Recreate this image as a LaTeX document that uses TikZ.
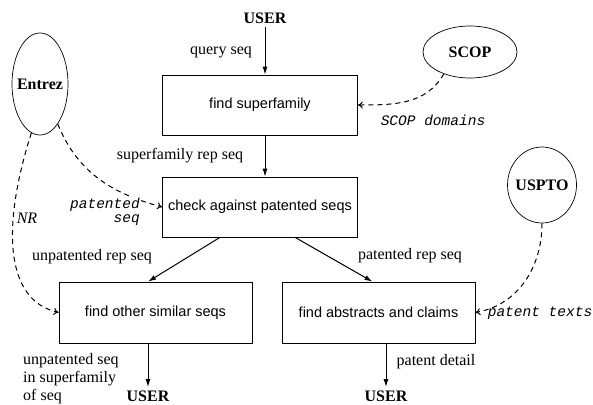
\documentclass[tikz,border=0pt]{standalone}
\usepackage{fontspec}
\setmainfont{Liberation Serif}
\setsansfont{Liberation Sans}
\setmonofont{Liberation Mono}
\usetikzlibrary{arrows.meta}
\usetikzlibrary{shapes.geometric}

\begin{document}
\begin{tikzpicture}[node distance = 2cm, x=1pt, y=1pt]
    \tikzstyle{block}  = [rectangle, draw, fill=white, line width=0.7pt, minimum width=195pt, minimum height=60pt, inner sep=2pt, font=\sffamily\fontsize{14.5}{17}\selectfont]
    \tikzstyle{source} = [ellipse, draw, line width=0.7pt, inner sep=0pt]
    \tikzstyle{user}   = [font=\bfseries\fontsize{16}{19}\selectfont]
    \tikzstyle{lbl}    = [font=\fontsize{16}{18}\selectfont]
    \tikzstyle{ttlbl}  = [font=\ttfamily\itshape\fontsize{14.5}{14}\selectfont]
    \tikzstyle{line}   = [draw, line width=1pt, -{Latex[length=8pt,width=5pt]}]
    \tikzstyle{dline}  = [draw, line width=1pt, dash pattern=on 5pt off 4pt, -{To[length=5pt,width=7pt]}]

    \useasboundingbox (0,0) rectangle (593,-404);

    % Place nodes
    % main steps:
    \node [block] (superfam) at (260,-105) {find superfamily};
    \node [block, below of=superfam, node distance=102pt] (check) {check against patented seqs};
    \node [block, minimum width=193pt, minimum height=61pt] (other) at (155.5,-312.5) {find other similar seqs};
    \node [block, right of=other, minimum width=193pt, minimum height=61pt, node distance=223pt] (abstracts) {find abstracts and claims};

    % users
    \node [user] (usrT) at (265,-18) {USER};
    \node [user] (usrL) at (148,-396) {USER};
    \node [user] (usrR) at (386,-396) {USER};

    % databases
    \node [source, minimum width=56pt, minimum height=102pt, label={[user]center:Entrez}] (entrez) at (40,-84) {};
    \node [source, minimum width=94pt, minimum height=52pt, label={[user]center:SCOP}] (scop) at (470,-52) {};
    \node [source, minimum width=69pt, minimum height=76pt, label={[user]center:USPTO}] (uspto) at (542,-185) {};

    % data flow
    \path [line] (usrT) -- (usrT |- superfam.north);
    \path [line] (superfam.south -| usrT) -- (check.north -| usrT);
    \path [line] ([xshift=-40pt]check.south) -- (other.north -| usrL);
    \path [line] ([xshift=35pt]check.south) -- ([xshift=-6pt]abstracts.north);
    \path [line] (other.south -| usrL) -- (usrL);
    \path [line] (abstracts.south -| usrR) -- (usrR);

    \path [dline] (scop.220) to [out=240, in=0] (superfam.east);
    \path [dline] (uspto.south) to [out=-90, in=10] (abstracts.east);
    \path [dline] (entrez.260) .. controls (2,-225) and (4,-300) .. (other.west);
    \path [dline] (entrez.-66) to [out=-68, in=165] (check.west);

    % labels
    \node [lbl] (querySeq) at (221,-52) {query seq};
    \node [lbl] (repSeq) at (180,-156) {superfamily rep seq};
    \node [lbl] (unpatRep) at (92,-257) {unpatented rep seq};
    \node [lbl] (patRep) at (410,-256) {patented rep seq};
    \node [lbl] (patDetail) at (436,-362) {patent detail};
    \node [lbl, anchor=west, align=left, inner sep=0pt] (unpatSeq) at (23,-379) {unpatented seq\\in superfamily\\of seq};
    \node [lbl, font=\itshape\fontsize{16}{18}\selectfont] (nrLbl) at (27,-218) {NR};
    \node [ttlbl] (scopLbl) at (433,-120) {SCOP domains};
    \node [ttlbl] (textLbl) at (540,-313) {patent texts};
    \node [ttlbl, anchor=east, align=right, fill=white, inner sep=1pt] (patLbl) at (141,-212) {patented\\seq};
\end{tikzpicture}
\end{document}
